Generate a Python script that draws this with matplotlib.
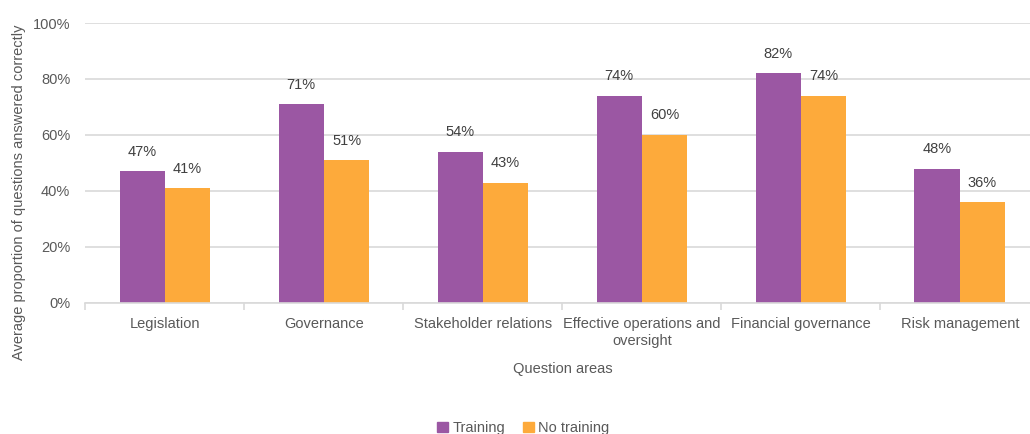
import numpy as np
import matplotlib.pyplot as plt
from matplotlib.patches import Patch
from matplotlib.ticker import PercentFormatter

areas = ['Legislation', 'Governance', 'Stakeholder relations',
         'Effective operations and\noversight', 'Financial governance', 'Risk management']
training = [47, 71, 54, 74, 82, 48]
no_training = [41, 51, 43, 60, 74, 36]

purple = '#9b57a3'
orange = '#fdaa3b'
grey_text = '#595959'
grid_col = '#d9d9d9'

plt.rcParams['font.family'] = ['Liberation Sans', 'DejaVu Sans']

fig = plt.figure(figsize=(10.3, 4.34), dpi=100)
ax = fig.add_axes([0.083, 0.302, 0.926, 0.645])

x = np.arange(len(areas))
w = 0.285
b1 = ax.bar(x - w / 2, training, w, color=purple)
b2 = ax.bar(x + w / 2, no_training, w, color=orange)

for bars, vals in ((b1, training), (b2, no_training)):
    for bar, v in zip(bars, vals):
        ax.annotate(f'{v}%', (bar.get_x() + bar.get_width() / 2, v),
                    xytext=(0, 9), textcoords='offset points',
                    ha='center', va='bottom', fontsize=10.5, color='#404040')

ax.set_xlim(-0.5, len(areas) - 0.5)
ax.set_ylim(0, 100)
ax.set_yticks(range(0, 101, 20))
ax.yaxis.set_major_formatter(PercentFormatter(decimals=0))
ax.grid(axis='y', color=grid_col, linewidth=1.2)
ax.set_axisbelow(True)

ax.set_xticks(x)
ax.set_xticklabels(areas, fontsize=10.5, color=grey_text, linespacing=1.3)
ax.set_xticks(np.arange(-0.5, len(areas), 1), minor=True)
ax.tick_params(axis='x', which='major', length=0, pad=10)
ax.tick_params(axis='x', which='minor', length=5, color=grid_col, width=1.2)
ax.tick_params(axis='y', length=0, labelsize=10.5, labelcolor=grey_text, pad=11)

for s in ('top', 'right', 'left'):
    ax.spines[s].set_visible(False)
ax.spines['bottom'].set_color(grid_col)
ax.spines['bottom'].set_linewidth(1.2)

ax.set_xlabel('Question areas', fontsize=10.5, color=grey_text, labelpad=10)
fig.text(19 / 1030, 1 - 192 / 434, 'Average proportion of questions answered correctly',
         rotation=90, ha='center', va='center', fontsize=10.5, color=grey_text)

handles = [Patch(color=purple, label='Training'), Patch(color=orange, label='No training')]
fig.legend(handles=handles, loc='center', bbox_to_anchor=(0.508, 1 - 428 / 434),
           ncol=2, frameon=False, fontsize=10.5, labelcolor=grey_text,
           handlelength=0.75, handleheight=0.75, handletextpad=0.3, columnspacing=1.2)

fig.savefig('out.png', dpi=100)
